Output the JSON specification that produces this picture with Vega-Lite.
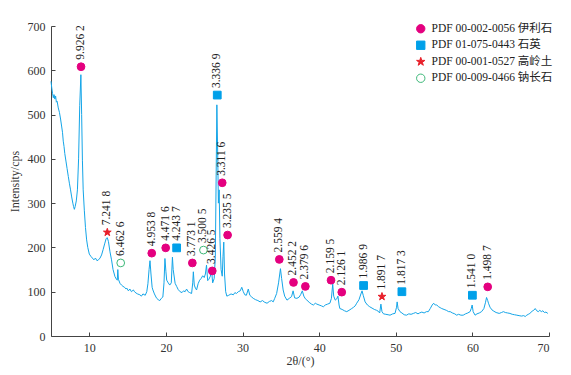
{
  "$schema": "https://vega.github.io/schema/vega-lite/v6.json",
  "width": 498,
  "height": 310,
  "autosize": "none",
  "padding": {"left": 51, "top": 26, "right": 22, "bottom": 39},
  "background": "white",
  "config": {
    "view": {"stroke": null},
    "font": "Liberation Serif",
    "axis": {
      "grid": false,
      "domainColor": "#444444",
      "tickColor": "#444444",
      "tickSize": -4,
      "labelPadding": 10,
      "labelFont": "Liberation Serif",
      "labelFontSize": 12,
      "labelColor": "#333333",
      "titleFont": "Liberation Serif",
      "titleFontSize": 12,
      "titleFontWeight": "normal",
      "titleColor": "#333333"
    },
    "legend": {
      "orient": "none",
      "legendX": 364,
      "legendY": -3,
      "padding": 0,
      "labelFont": "Liberation Serif, Noto Sans CJK SC",
      "labelFontSize": 11.5,
      "labelColor": "#222222",
      "symbolSize": 70,
      "symbolStrokeWidth": 1,
      "rowPadding": 3.5,
      "labelOffset": 5,
      "labelLimit": 300
    }
  },
  "datasets": {
    "xrd": [
      {"t": 5.0, "i": 575}, {"t": 5.1, "i": 560}, {"t": 5.2, "i": 548}, {"t": 5.3, "i": 538}, {"t": 5.4, "i": 545},
      {"t": 5.5, "i": 535}, {"t": 5.6, "i": 542}, {"t": 5.7, "i": 528}, {"t": 5.8, "i": 530}, {"t": 5.95, "i": 515},
      {"t": 6.1, "i": 505}, {"t": 6.25, "i": 490}, {"t": 6.4, "i": 472}, {"t": 6.5, "i": 460}, {"t": 6.6, "i": 440},
      {"t": 6.7, "i": 428}, {"t": 6.8, "i": 412}, {"t": 6.95, "i": 395}, {"t": 7.1, "i": 378}, {"t": 7.26, "i": 360},
      {"t": 7.4, "i": 345}, {"t": 7.55, "i": 330}, {"t": 7.7, "i": 314}, {"t": 7.85, "i": 300}, {"t": 7.95, "i": 292},
      {"t": 8.05, "i": 286}, {"t": 8.15, "i": 292}, {"t": 8.3, "i": 305}, {"t": 8.45, "i": 330}, {"t": 8.6, "i": 400},
      {"t": 8.75, "i": 520}, {"t": 8.9, "i": 590}, {"t": 9.0, "i": 500}, {"t": 9.1, "i": 397}, {"t": 9.2, "i": 330},
      {"t": 9.35, "i": 284}, {"t": 9.5, "i": 245}, {"t": 9.65, "i": 217}, {"t": 9.8, "i": 200}, {"t": 10.0, "i": 185},
      {"t": 10.2, "i": 180}, {"t": 10.4, "i": 176}, {"t": 10.6, "i": 172}, {"t": 10.8, "i": 176}, {"t": 11.0, "i": 170},
      {"t": 11.2, "i": 172}, {"t": 11.4, "i": 176}, {"t": 11.6, "i": 183}, {"t": 11.8, "i": 195}, {"t": 12.0, "i": 208},
      {"t": 12.2, "i": 220}, {"t": 12.35, "i": 222}, {"t": 12.5, "i": 213}, {"t": 12.7, "i": 190}, {"t": 12.9, "i": 172},
      {"t": 13.1, "i": 150}, {"t": 13.35, "i": 134}, {"t": 13.55, "i": 128}, {"t": 13.65, "i": 126}, {"t": 13.72, "i": 150},
      {"t": 13.8, "i": 128}, {"t": 14.0, "i": 119}, {"t": 14.2, "i": 115}, {"t": 14.4, "i": 112}, {"t": 14.6, "i": 110},
      {"t": 14.8, "i": 106}, {"t": 14.9, "i": 108}, {"t": 15.1, "i": 102}, {"t": 15.3, "i": 106}, {"t": 15.5, "i": 100},
      {"t": 15.75, "i": 104}, {"t": 15.9, "i": 100}, {"t": 16.1, "i": 97}, {"t": 16.3, "i": 95}, {"t": 16.6, "i": 93},
      {"t": 16.8, "i": 90}, {"t": 17.0, "i": 95}, {"t": 17.3, "i": 92}, {"t": 17.5, "i": 100}, {"t": 17.65, "i": 118},
      {"t": 17.8, "i": 150}, {"t": 17.92, "i": 170}, {"t": 18.05, "i": 140}, {"t": 18.2, "i": 110}, {"t": 18.3, "i": 104},
      {"t": 18.5, "i": 95}, {"t": 18.7, "i": 88}, {"t": 18.8, "i": 85}, {"t": 19.0, "i": 82}, {"t": 19.2, "i": 80},
      {"t": 19.4, "i": 85}, {"t": 19.6, "i": 88}, {"t": 19.75, "i": 120}, {"t": 19.87, "i": 175}, {"t": 20.0, "i": 145},
      {"t": 20.1, "i": 126}, {"t": 20.3, "i": 120}, {"t": 20.5, "i": 115}, {"t": 20.7, "i": 120}, {"t": 20.85, "i": 178},
      {"t": 20.95, "i": 150}, {"t": 21.2, "i": 119}, {"t": 21.4, "i": 112}, {"t": 21.6, "i": 105}, {"t": 21.85, "i": 100},
      {"t": 22.1, "i": 98}, {"t": 22.3, "i": 102}, {"t": 22.5, "i": 100}, {"t": 22.7, "i": 106}, {"t": 22.9, "i": 100},
      {"t": 23.1, "i": 98}, {"t": 23.35, "i": 96}, {"t": 23.5, "i": 120}, {"t": 23.58, "i": 145}, {"t": 23.7, "i": 115},
      {"t": 23.85, "i": 108}, {"t": 24.0, "i": 104}, {"t": 24.2, "i": 118}, {"t": 24.4, "i": 126}, {"t": 24.6, "i": 130},
      {"t": 24.8, "i": 136}, {"t": 25.0, "i": 132}, {"t": 25.15, "i": 140}, {"t": 25.3, "i": 160}, {"t": 25.45, "i": 125},
      {"t": 25.6, "i": 128}, {"t": 25.8, "i": 135}, {"t": 25.95, "i": 150}, {"t": 26.1, "i": 120}, {"t": 26.3, "i": 130},
      {"t": 26.45, "i": 180}, {"t": 26.55, "i": 350}, {"t": 26.65, "i": 522}, {"t": 26.75, "i": 420}, {"t": 26.85, "i": 300},
      {"t": 26.95, "i": 330}, {"t": 27.05, "i": 220}, {"t": 27.2, "i": 150}, {"t": 27.35, "i": 135}, {"t": 27.45, "i": 180},
      {"t": 27.55, "i": 212}, {"t": 27.65, "i": 140}, {"t": 27.8, "i": 100}, {"t": 27.95, "i": 90}, {"t": 28.2, "i": 92},
      {"t": 28.5, "i": 95}, {"t": 28.8, "i": 93}, {"t": 29.0, "i": 98}, {"t": 29.2, "i": 96}, {"t": 29.45, "i": 100},
      {"t": 29.7, "i": 102}, {"t": 29.9, "i": 110}, {"t": 30.1, "i": 100}, {"t": 30.3, "i": 93}, {"t": 30.5, "i": 92},
      {"t": 30.75, "i": 106}, {"t": 30.95, "i": 92}, {"t": 31.2, "i": 88}, {"t": 31.4, "i": 85}, {"t": 31.7, "i": 82},
      {"t": 32.0, "i": 80}, {"t": 32.3, "i": 77}, {"t": 32.6, "i": 80}, {"t": 32.9, "i": 76}, {"t": 33.2, "i": 74},
      {"t": 33.5, "i": 78}, {"t": 33.8, "i": 80}, {"t": 34.0, "i": 77}, {"t": 34.2, "i": 85}, {"t": 34.45, "i": 96},
      {"t": 34.7, "i": 120}, {"t": 34.95, "i": 152}, {"t": 35.1, "i": 130}, {"t": 35.3, "i": 104}, {"t": 35.5, "i": 90},
      {"t": 35.8, "i": 81}, {"t": 36.1, "i": 85}, {"t": 36.4, "i": 89}, {"t": 36.6, "i": 102}, {"t": 36.8, "i": 86},
      {"t": 37.1, "i": 85}, {"t": 37.4, "i": 88}, {"t": 37.6, "i": 94}, {"t": 37.8, "i": 102}, {"t": 38.0, "i": 90},
      {"t": 38.2, "i": 84}, {"t": 38.4, "i": 81}, {"t": 38.7, "i": 76}, {"t": 39.0, "i": 72}, {"t": 39.25, "i": 70},
      {"t": 39.5, "i": 74}, {"t": 39.7, "i": 72}, {"t": 40.0, "i": 70}, {"t": 40.3, "i": 68}, {"t": 40.55, "i": 66},
      {"t": 40.8, "i": 70}, {"t": 41.1, "i": 72}, {"t": 41.4, "i": 74}, {"t": 41.6, "i": 85}, {"t": 41.77, "i": 117},
      {"t": 41.9, "i": 90}, {"t": 42.1, "i": 81}, {"t": 42.3, "i": 84}, {"t": 42.45, "i": 90}, {"t": 42.6, "i": 70},
      {"t": 42.7, "i": 62}, {"t": 43.0, "i": 60}, {"t": 43.3, "i": 57}, {"t": 43.6, "i": 55}, {"t": 43.9, "i": 58},
      {"t": 44.25, "i": 62}, {"t": 44.5, "i": 65}, {"t": 44.7, "i": 68}, {"t": 44.9, "i": 74}, {"t": 45.2, "i": 82},
      {"t": 45.45, "i": 95}, {"t": 45.6, "i": 102}, {"t": 45.75, "i": 92}, {"t": 46.0, "i": 77}, {"t": 46.3, "i": 70},
      {"t": 46.6, "i": 66}, {"t": 46.9, "i": 63}, {"t": 47.2, "i": 60}, {"t": 47.5, "i": 58}, {"t": 47.7, "i": 56},
      {"t": 47.9, "i": 52}, {"t": 48.06, "i": 72}, {"t": 48.2, "i": 55}, {"t": 48.4, "i": 50}, {"t": 48.7, "i": 49},
      {"t": 49.0, "i": 48}, {"t": 49.25, "i": 47}, {"t": 49.6, "i": 50}, {"t": 49.9, "i": 51}, {"t": 50.1, "i": 65},
      {"t": 50.18, "i": 77}, {"t": 50.3, "i": 62}, {"t": 50.55, "i": 55}, {"t": 50.8, "i": 52}, {"t": 51.1, "i": 48},
      {"t": 51.4, "i": 47}, {"t": 51.7, "i": 50}, {"t": 52.0, "i": 49}, {"t": 52.3, "i": 51}, {"t": 52.6, "i": 53},
      {"t": 52.9, "i": 50}, {"t": 53.1, "i": 52}, {"t": 53.4, "i": 54}, {"t": 53.7, "i": 52}, {"t": 54.0, "i": 55},
      {"t": 54.25, "i": 55}, {"t": 54.5, "i": 62}, {"t": 54.75, "i": 70}, {"t": 54.95, "i": 74}, {"t": 55.15, "i": 70},
      {"t": 55.35, "i": 70}, {"t": 55.6, "i": 66}, {"t": 55.8, "i": 64}, {"t": 56.0, "i": 62}, {"t": 56.3, "i": 60},
      {"t": 56.6, "i": 58}, {"t": 56.9, "i": 55}, {"t": 57.1, "i": 55}, {"t": 57.4, "i": 52}, {"t": 57.7, "i": 50},
      {"t": 57.95, "i": 47}, {"t": 58.2, "i": 49}, {"t": 58.5, "i": 47}, {"t": 58.8, "i": 47}, {"t": 59.1, "i": 50},
      {"t": 59.4, "i": 52}, {"t": 59.7, "i": 55}, {"t": 59.85, "i": 62}, {"t": 59.97, "i": 70}, {"t": 60.1, "i": 55},
      {"t": 60.35, "i": 47}, {"t": 60.6, "i": 50}, {"t": 60.9, "i": 52}, {"t": 61.2, "i": 55}, {"t": 61.5, "i": 62},
      {"t": 61.7, "i": 75}, {"t": 61.85, "i": 87}, {"t": 62.0, "i": 80}, {"t": 62.1, "i": 74}, {"t": 62.3, "i": 65},
      {"t": 62.55, "i": 59}, {"t": 62.8, "i": 56}, {"t": 63.1, "i": 53}, {"t": 63.5, "i": 51}, {"t": 63.8, "i": 53},
      {"t": 64.05, "i": 55}, {"t": 64.3, "i": 53}, {"t": 64.6, "i": 52}, {"t": 64.9, "i": 51}, {"t": 65.2, "i": 49},
      {"t": 65.5, "i": 48}, {"t": 65.8, "i": 47}, {"t": 66.1, "i": 46}, {"t": 66.4, "i": 45}, {"t": 66.7, "i": 46},
      {"t": 66.9, "i": 44}, {"t": 67.1, "i": 47}, {"t": 67.3, "i": 49}, {"t": 67.5, "i": 51}, {"t": 67.8, "i": 56},
      {"t": 68.0, "i": 58}, {"t": 68.2, "i": 62}, {"t": 68.4, "i": 57}, {"t": 68.6, "i": 55}, {"t": 68.8, "i": 58},
      {"t": 69.0, "i": 55}, {"t": 69.2, "i": 57}, {"t": 69.4, "i": 53}, {"t": 69.6, "i": 54}, {"t": 69.85, "i": 51}
    ],
    "peaks": [
      {"t": 8.92, "i": 608, "phase": "PDF 00-002-0056 伊利石", "label": "9.926 2"},
      {"t": 12.35, "i": 234, "phase": "PDF 00-001-0527 高岭土", "label": "7.241 8"},
      {"t": 14.1, "i": 165, "phase": "PDF 00-009-0466 钠长石", "label": "6.462 6"},
      {"t": 18.15, "i": 187, "phase": "PDF 00-002-0056 伊利石", "label": "4.953 8"},
      {"t": 19.97, "i": 199, "phase": "PDF 00-002-0056 伊利石", "label": "4.471 6"},
      {"t": 21.4, "i": 199, "phase": "PDF 01-075-0443 石英", "label": "4.243 7"},
      {"t": 23.45, "i": 165, "phase": "PDF 00-002-0056 伊利石", "label": "3.773 1"},
      {"t": 24.9, "i": 194, "phase": "PDF 00-009-0466 钠长石", "label": "3.500 5"},
      {"t": 26.05, "i": 147, "phase": "PDF 00-002-0056 伊利石", "label": "3.426 5"},
      {"t": 26.7, "i": 544, "phase": "PDF 01-075-0443 石英", "label": "3.336 9"},
      {"t": 27.35, "i": 346, "phase": "PDF 00-002-0056 伊利石", "label": "3.311 6"},
      {"t": 28.05, "i": 228, "phase": "PDF 00-002-0056 伊利石", "label": "3.235 5"},
      {"t": 34.8, "i": 173, "phase": "PDF 00-002-0056 伊利石", "label": "2.559 4"},
      {"t": 36.65, "i": 121, "phase": "PDF 00-002-0056 伊利石", "label": "2.452 2"},
      {"t": 38.2, "i": 112, "phase": "PDF 00-002-0056 伊利石", "label": "2.379 6"},
      {"t": 41.55, "i": 126, "phase": "PDF 00-002-0056 伊利石", "label": "2.159 5"},
      {"t": 42.95, "i": 99, "phase": "PDF 00-002-0056 伊利石", "label": "2.126 1"},
      {"t": 45.8, "i": 114, "phase": "PDF 01-075-0443 石英", "label": "1.986 9"},
      {"t": 48.2, "i": 89, "phase": "PDF 00-001-0527 高岭土", "label": "1.891 7"},
      {"t": 50.8, "i": 100, "phase": "PDF 01-075-0443 石英", "label": "1.817 3"},
      {"t": 60.0, "i": 92, "phase": "PDF 01-075-0443 石英", "label": "1.541 0"},
      {"t": 62.0, "i": 111, "phase": "PDF 00-002-0056 伊利石", "label": "1.498 7"}
    ]
  },
  "layer": [
    {
      "data": {"name": "xrd"},
      "mark": {"type": "line", "color": "#14a5e8", "strokeWidth": 1, "interpolate": "linear"},
      "encoding": {
        "x": {"field": "t", "type": "quantitative", "scale": {"domain": [5, 70], "nice": false},
              "axis": {"values": [10, 20, 30, 40, 50, 60, 70], "title": "2θ/(°)", "titlePadding": 2}},
        "y": {"field": "i", "type": "quantitative", "scale": {"domain": [0, 700], "nice": false},
              "axis": {"values": [0, 100, 200, 300, 400, 500, 600, 700], "title": "Intensity/cps", "titlePadding": 6}}
      }
    },
    {
      "data": {"name": "peaks"},
      "mark": {"type": "point", "filled": true, "size": 60, "strokeWidth": 1, "opacity": 1},
      "encoding": {
        "x": {"field": "t", "type": "quantitative"},
        "y": {"field": "i", "type": "quantitative"},
        "shape": {"field": "phase", "type": "nominal", "title": null,
                  "scale": {"domain": ["PDF 00-002-0056 伊利石", "PDF 01-075-0443 石英", "PDF 00-001-0527 高岭土", "PDF 00-009-0466 钠长石"],
                            "range": ["circle", "square", "M0,-1.05L0.236,-0.325L1,-0.325L0.382,0.124L0.618,0.851L0,0.401L-0.618,0.851L-0.382,0.124L-1,-0.325L-0.236,-0.325Z", "circle"]}},
        "fill": {"field": "phase", "type": "nominal", "title": null,
                 "scale": {"domain": ["PDF 00-002-0056 伊利石", "PDF 01-075-0443 石英", "PDF 00-001-0527 高岭土", "PDF 00-009-0466 钠长石"],
                           "range": ["#e4007f", "#00a0e9", "#e8202a", "transparent"]}},
        "stroke": {"field": "phase", "type": "nominal", "title": null,
                   "scale": {"domain": ["PDF 00-002-0056 伊利石", "PDF 01-075-0443 石英", "PDF 00-001-0527 高岭土", "PDF 00-009-0466 钠长石"],
                             "range": ["#e4007f", "#00a0e9", "#e8202a", "#3cb878"]}}
      }
    },
    {
      "data": {"name": "peaks"},
      "mark": {"type": "text", "angle": 270, "align": "left", "baseline": "middle", "dx": 7,
               "font": "Liberation Serif", "fontSize": 11.5, "color": "#222222"},
      "encoding": {
        "x": {"field": "t", "type": "quantitative"},
        "y": {"field": "i", "type": "quantitative"},
        "text": {"field": "label"}
      }
    }
  ]
}
